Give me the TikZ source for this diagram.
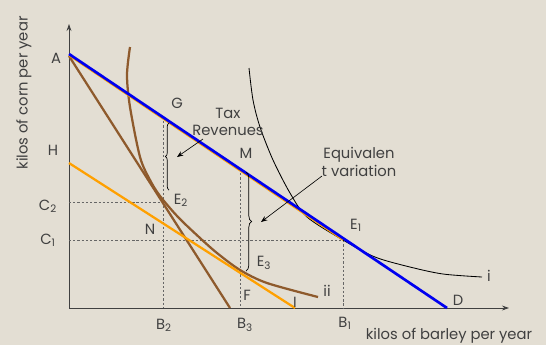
\documentclass[tikz,border=0pt]{standalone}
\usepackage{fontspec}
\setmainfont{Poppins}
\usetikzlibrary{arrows.meta,decorations.pathreplacing}
\definecolor{paper}{HTML}{E3DED3}
\definecolor{ink}{HTML}{404040}
\definecolor{barleybrown}{HTML}{8E5A2C}
\definecolor{taxorange}{HTML}{FFA000}
\definecolor{budgetblue}{HTML}{0000F0}

\begin{document}
\begin{tikzpicture}[x=0.025cm,y=-0.025cm,
    lbl/.style={text=ink,font=\fontsize{10.5}{12.5}\selectfont,inner sep=0pt},
    axis/.style={ink,line width=0.6pt,-{Stealth[length=5pt,width=3.5pt]}},
    guide/.style={ink!80,dash pattern=on 1.6pt off 1.4pt,line width=0.5pt},
    pointer/.style={black,line width=0.45pt,-{Stealth[length=4.5pt,width=3.5pt]}},
    bracebar/.style={black,line width=0.5pt,decorate,decoration={brace,amplitude=#1}}]
    % Background
    \fill[paper] (0,0) rectangle (546,345);

    % Axes
    \coordinate (O) at (69,308);
    \coordinate (ytop) at (69,24);
    \coordinate (xend) at (509,308);
    \draw[axis] (O) -- (ytop);
    \draw[axis] (O) -- (xend);
    \node[lbl,rotate=90] (ylab) at (24,93) {kilos of corn per year};
    \node[lbl] (xlab) at (449,336) {kilos of barley per year};

    % Points
    \coordinate (A) at (69,54);
    \coordinate (D) at (447,308);
    \coordinate (H) at (69,163);
    \coordinate (I) at (295,308);
    \coordinate (Z) at (230,308);
    \coordinate (E1) at (343,240);
    \coordinate (E2) at (163,202);
    \coordinate (E3) at (240,271);
    \coordinate (G) at (163,117);
    \coordinate (M) at (240,169);

    % Guide lines
    \draw[guide] (69,240) -- (E1) -- (343,308);
    \draw[guide] (69,202) -- (E2);
    \draw[guide] (G) -- (163,308);
    \draw[guide] (M) -- (240,308);

    % Indifference curves
    \draw[black,line width=0.6pt] plot[smooth] coordinates {(249,68) (253,100) (260,127) (273,160) (290,193) (307,217) (343,240) (375,257) (410,267) (443,274) (482,277)};
    \draw[barleybrown,line width=1.6pt] plot[smooth] coordinates {(130,47) (127,75) (130,107) (140,157) (150,180) (160,196) (178,217) (200,238) (217,253) (240,270) (267,283) (318,297)};

    % Budget lines
    \draw[barleybrown,line width=1.6pt] (69,56) -- (Z);
    \draw[taxorange,line width=1.6pt] (H) -- (I);
    \draw[taxorange,line width=1.2pt] (69,55.4) -- (E1);
    \draw[budgetblue,line width=1.9pt] (A) -- (D);

    % Braces
    \draw[bracebar=2.5pt] (169,190) -- (169,123);
    \draw[bracebar=4pt] (246,172) -- (246,271);
    \coordinate (taxend) at (177,157);
    \coordinate (taxstart) at (203,139);
    \coordinate (evend) at (261,222);
    \coordinate (evstart) at (322,176);
    \draw[pointer] (taxstart) -- (taxend);
    \draw[pointer] (evstart) -- (evend);
    \node[lbl,align=center] (tax) at (228,122) {Tax\\Revenues};
    \node[lbl,align=center] (ev) at (359,162) {Equivalen\\t variation};

    % Labels
    \node[lbl] (lA) at (56,58) {A};
    \node[lbl] (lH) at (53,150) {H};
    \node[lbl] (lC2) at (48,206) {C\textsubscript{2}};
    \node[lbl] (lC1) at (48,240) {C\textsubscript{1}};
    \node[lbl] (lG) at (177,103) {G};
    \node[lbl] (lM) at (246,153) {M};
    \node[lbl] (lE2) at (181,200) {E\textsubscript{2}};
    \node[lbl] (lN) at (150,229) {N};
    \node[lbl] (lE1) at (356,225) {E\textsubscript{1}};
    \node[lbl] (lE3) at (264,263) {E\textsubscript{3}};
    \node[lbl] (lF) at (247,295) {F};
    \node[lbl] (lii) at (327,291) {ii};
    \node[lbl] (li) at (489,276) {i};
    \node[lbl] (lD) at (458,300) {D};
    \node[lbl] (lI) at (295,302) {I};
    \node[lbl] (lB2) at (164,325) {B\textsubscript{2}};
    \node[lbl] (lB3) at (245,325) {B\textsubscript{3}};
    \node[lbl] (lB1) at (345,323) {B\textsubscript{1}};
\end{tikzpicture}
\end{document}
